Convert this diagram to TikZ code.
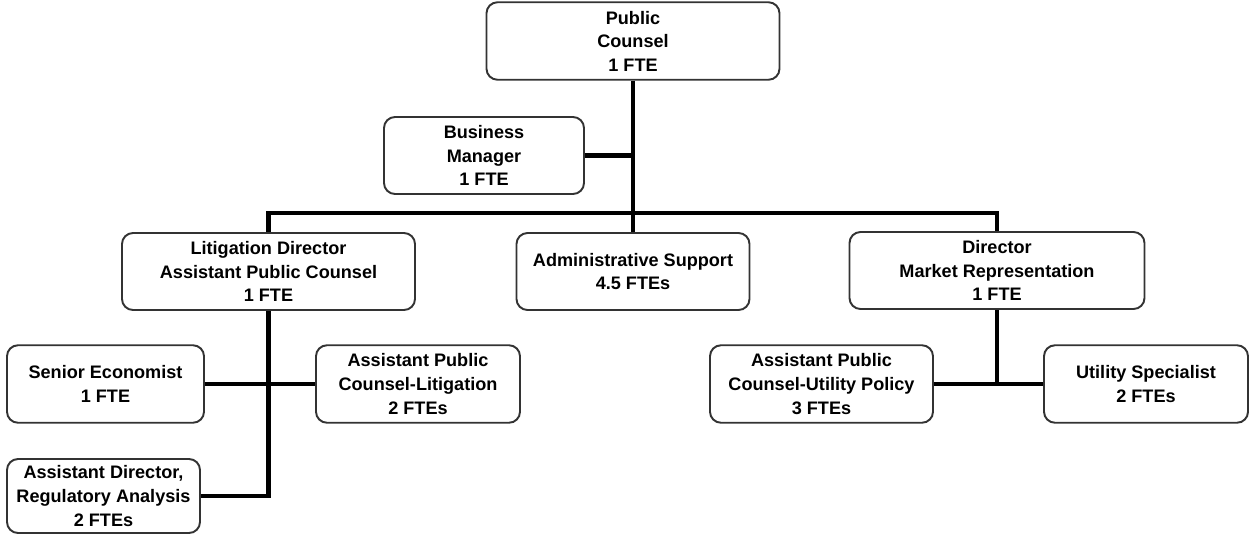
\documentclass[tikz,border=0pt]{standalone}
\usepackage{fontspec}
\setmainfont{Liberation Sans}
\usetikzlibrary{positioning}

\begin{document}
\begin{tikzpicture}[
  post/.style={draw=black!80, line width=1.1pt, rounded corners=0.22cm, fill=white,
               align=center, inner sep=1pt, minimum height=1.55cm,
               font=\bfseries\fontsize{10.3}{13.4}\selectfont},
  link/.style={line width=2.3pt, black},
]
\useasboundingbox (0,0) rectangle (25,-10.7);

% Top of the office
\node[post, minimum width=5.86cm] (pc) at (12.66,-0.82) {Public\\Counsel\\1 FTE};
\node[post, minimum width=4.0cm, minimum height=1.54cm] (bm) at (9.68,-3.11) {Business\\Manager\\1 FTE};

% Second row
\node[post, minimum width=5.86cm, minimum height=1.54cm] (lit) at (5.37,-5.43)
  {Litigation Director\\Assistant Public Counsel\\1 FTE};
\node[post, minimum width=4.66cm, minimum height=1.54cm] (adm) at (12.66,-5.43)
  {Administrative Support\\4.5 FTEs};
\node[post, minimum width=5.9cm, minimum height=1.54cm] (dir) at (19.94,-5.41)
  {Director\\Market Representation\\1 FTE};

% Litigation staff
\node[post, minimum width=3.94cm] (se) at (2.11,-7.68) {Senior Economist\\1 FTE};
\node[post, minimum width=4.08cm] (apcl) at (8.36,-7.68)
  {Assistant Public\\Counsel-Litigation\\2 FTEs};
\node[post, minimum width=3.86cm, minimum height=1.48cm] (ad) at (2.07,-9.92)
  {Assistant Director,\\Regulatory Analysis\\2 FTEs};

% Market representation staff
\node[post, minimum width=4.46cm] (apcu) at (16.43,-7.68)
  {Assistant Public\\Counsel-Utility Policy\\3 FTEs};
\node[post, minimum width=4.08cm] (us) at (22.92,-7.68) {Utility Specialist\\2 FTEs};

% Reporting lines
\coordinate (bus) at (12.66,-4.26);
\draw[link] (pc.south) -- (adm.north);
\draw[link] (bm.east) -- (bm.east -| pc.south);
\draw[link] (lit.north) |- (bus) -| (dir.north);
\draw[link] (lit.south) |- (ad.east);
\draw[link] (se.east) -- (apcl.west);
\draw[link] (dir.south) -- (dir.south |- apcu.east);
\draw[link] (apcu.east) -- (us.west);

\end{tikzpicture}
\end{document}
